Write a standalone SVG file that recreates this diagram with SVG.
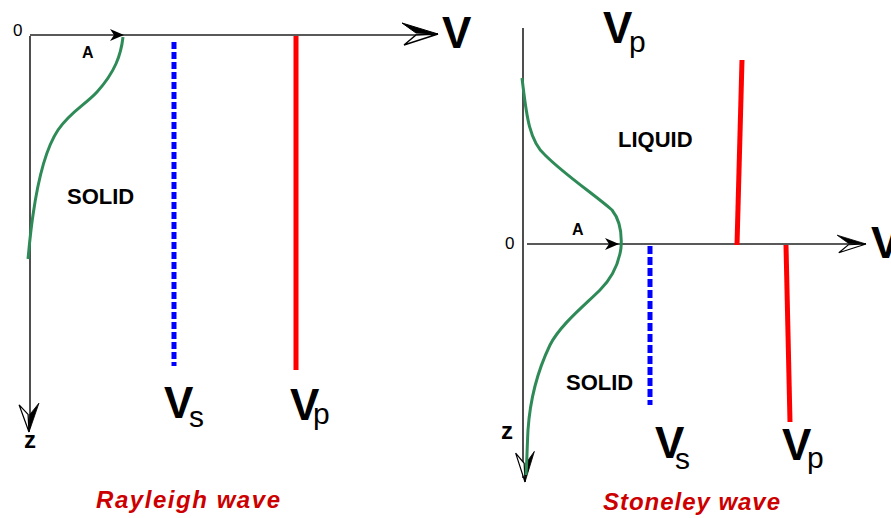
<svg xmlns="http://www.w3.org/2000/svg" xmlns:xlink="http://www.w3.org/1999/xlink" width="891" height="518" viewBox="0 0 891 518">
<style>
.axis{stroke:#222;stroke-width:1.6;fill:none}
.green{stroke:#2e8b57;stroke-width:3;fill:none}
.blue{stroke:#0000ff;stroke-width:5;stroke-dasharray:7 3;fill:none}
.red{stroke:#ff0000;stroke-width:5;fill:none}
.sm{font-family:"Liberation Sans",Arial,sans-serif;font-size:17px;fill:#000}
.smb{font-family:"Liberation Sans",Arial,sans-serif;font-size:16px;font-weight:bold;fill:#000}
.zz{font-family:"Liberation Sans",Arial,sans-serif;font-size:24px;font-weight:bold;fill:#000}
.lbl{font-family:"Liberation Sans",Arial,sans-serif;font-size:22px;font-weight:bold;fill:#000}
.big{font-family:"Liberation Sans",Arial,sans-serif;font-size:44px;font-weight:bold;fill:#000}
.sub{font-family:"Liberation Sans",Arial,sans-serif;font-size:30px;font-weight:normal;fill:#000}
.title{font-family:"Liberation Sans",Arial,sans-serif;font-size:24px;font-weight:bold;font-style:italic;fill:#cc0000}
</style>
<defs>
<g id="vhead">
<path d="M0,0 L-36,-11 L-22,-1 Z" fill="#000" stroke="#000" stroke-width="1"/>
<path d="M0,0 L-22,1 L-34,11 Z" fill="#fff" stroke="#000" stroke-width="1.4"/>
</g>
<path id="ahead" d="M0,0 L-14,-6 L-10,0 L-14,6 Z" fill="#000"/>
</defs>

<g id="connectors">
<path class="axis" d="M30,36 L30,428"/>
<path class="axis" d="M30,35 L432,35"/>
<use xlink:href="#vhead" transform="translate(438,34)"/>
<use xlink:href="#vhead" transform="translate(29,432) rotate(90) scale(0.8,0.9)"/>
<use xlink:href="#ahead" transform="translate(124,35)"/>
<path class="axis" d="M523,28 L523,478"/>
<path class="axis" d="M527,244 L862,244"/>
<use xlink:href="#vhead" transform="translate(866,244) scale(0.8,0.8)"/>
<use xlink:href="#vhead" transform="translate(525,482) rotate(90) scale(0.85,0.85)"/>
<use xlink:href="#ahead" transform="translate(619,244)"/>
</g>

<g id="rayleigh">
<path class="green" d="M123,37 C121,55 115,72 97,92 C85,105 70,112 58,130 C46,148 38,180 33,215 C30,235 29,250 28,259"/>
<line class="blue" x1="174" y1="42" x2="174" y2="366"/>
<line class="red" x1="296" y1="36" x2="296" y2="370"/>
<text class="sm" x="13" y="36">0</text>
<text class="smb" x="82" y="58">A</text>
<text class="lbl" x="67" y="204">SOLID</text>
<text class="zz" x="24" y="448">z</text>
<text class="big" x="442" y="48">V</text>
<text class="big" x="164" y="418">V<tspan class="sub" x="189" y="427">s</tspan></text>
<text class="big" x="290" y="420">V<tspan class="sub" x="313" y="424">p</tspan></text>
<text class="title" x="96" y="508" textLength="184" lengthAdjust="spacing">Rayleigh  wave</text>
</g>

<g id="stoneley">
<path class="green" d="M522,78 C526,110 528,140 545,155 C565,175 595,195 612,210 C620,220 622,235 621,248 C619,262 612,278 600,290 C585,305 560,325 550,345 C538,370 530,400 528,430 C527,450 527,460 526,475"/>
<line class="blue" x1="650" y1="246" x2="650" y2="405" style="stroke-dasharray:8 3"/>
<line class="red" x1="742" y1="60" x2="737" y2="245"/>
<line class="red" x1="786" y1="245" x2="790" y2="422"/>
<text class="sm" x="505" y="249">0</text>
<text class="smb" x="572" y="235">A</text>
<text class="lbl" x="618" y="147">LIQUID</text>
<text class="lbl" x="566" y="390">SOLID</text>
<text class="zz" x="501" y="439">z</text>
<text class="big" x="871" y="258">V</text>
<text class="big" x="603" y="43">V<tspan class="sub" x="629" y="52">p</tspan></text>
<text class="big" x="655" y="458">V<tspan class="sub" x="675" y="469">s</tspan></text>
<text class="big" x="782" y="460">V<tspan class="sub" x="807" y="468">p</tspan></text>
<text class="title" x="603" y="510" textLength="177" lengthAdjust="spacing">Stoneley wave</text>
</g>
</svg>
